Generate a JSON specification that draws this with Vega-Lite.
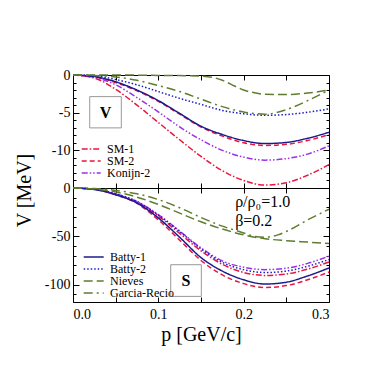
{
 "$schema": "https://vega.github.io/schema/vega-lite/v6.json",
 "padding": {"left": 13, "top": 67, "right": 10, "bottom": 5},
 "background": "white",
 "spacing": 0,
 "bounds": "flush",
 "config": {
  "view": {"stroke": "#000", "strokeWidth": 1},
  "font": "Liberation Serif",
  "text": {"font": "Liberation Serif"},
  "axis": {"domain": false, "grid": false, "tickColor": "#000", "labelColor": "#000", "labelFont": "Liberation Serif", "labelFontSize": 14, "titleFont": "Liberation Serif", "titleColor": "#000", "titleFontWeight": "normal"},
  "legend": {"orient": "bottom-left", "title": null, "labelFont": "Liberation Serif", "labelFontSize": 12, "labelColor": "#000", "symbolType": "M-2,0H2", "symbolSize": 100, "symbolStrokeWidth": 1.5, "rowPadding": 0, "padding": 0, "labelOffset": 11}
 },
 "resolve": {"scale": {"x": "independent", "y": "independent", "color": "independent", "strokeDash": "independent", "strokeWidth": "independent"}, "legend": {"color": "independent", "strokeDash": "independent"}},
 "datasets": {"curves": [
  {"panel":"V","series":"SM-1","p":0,"v":0},{"panel":"V","series":"SM-1","p":0.025,"v":-0.4},{"panel":"V","series":"SM-1","p":0.05,"v":-1.9},{"panel":"V","series":"SM-1","p":0.075,"v":-4.0},{"panel":"V","series":"SM-1","p":0.1,"v":-6.3},{"panel":"V","series":"SM-1","p":0.125,"v":-8.6},{"panel":"V","series":"SM-1","p":0.15,"v":-10.8},{"panel":"V","series":"SM-1","p":0.175,"v":-12.7},{"panel":"V","series":"SM-1","p":0.2,"v":-14.0},{"panel":"V","series":"SM-1","p":0.225,"v":-14.6},{"panel":"V","series":"SM-1","p":0.25,"v":-14.3},{"panel":"V","series":"SM-1","p":0.275,"v":-13.3},{"panel":"V","series":"SM-1","p":0.3,"v":-11.9},
  {"panel":"V","series":"SM-2","p":0,"v":0},{"panel":"V","series":"SM-2","p":0.025,"v":-0.25},{"panel":"V","series":"SM-2","p":0.05,"v":-1.0},{"panel":"V","series":"SM-2","p":0.075,"v":-2.1},{"panel":"V","series":"SM-2","p":0.1,"v":-3.5},{"panel":"V","series":"SM-2","p":0.125,"v":-5.2},{"panel":"V","series":"SM-2","p":0.15,"v":-6.9},{"panel":"V","series":"SM-2","p":0.175,"v":-8.1},{"panel":"V","series":"SM-2","p":0.2,"v":-9.0},{"panel":"V","series":"SM-2","p":0.225,"v":-9.35},{"panel":"V","series":"SM-2","p":0.25,"v":-9.2},{"panel":"V","series":"SM-2","p":0.275,"v":-8.7},{"panel":"V","series":"SM-2","p":0.3,"v":-7.9},
  {"panel":"V","series":"Konijn-2","p":0,"v":0},{"panel":"V","series":"Konijn-2","p":0.025,"v":-0.3},{"panel":"V","series":"Konijn-2","p":0.05,"v":-1.3},{"panel":"V","series":"Konijn-2","p":0.075,"v":-3.0},{"panel":"V","series":"Konijn-2","p":0.1,"v":-4.9},{"panel":"V","series":"Konijn-2","p":0.125,"v":-6.9},{"panel":"V","series":"Konijn-2","p":0.15,"v":-8.6},{"panel":"V","series":"Konijn-2","p":0.175,"v":-10.0},{"panel":"V","series":"Konijn-2","p":0.2,"v":-10.9},{"panel":"V","series":"Konijn-2","p":0.225,"v":-11.3},{"panel":"V","series":"Konijn-2","p":0.25,"v":-11.1},{"panel":"V","series":"Konijn-2","p":0.275,"v":-10.5},{"panel":"V","series":"Konijn-2","p":0.3,"v":-9.4},
  {"panel":"V","series":"Batty-1","p":0,"v":0},{"panel":"V","series":"Batty-1","p":0.025,"v":-0.2},{"panel":"V","series":"Batty-1","p":0.05,"v":-0.9},{"panel":"V","series":"Batty-1","p":0.075,"v":-2.0},{"panel":"V","series":"Batty-1","p":0.1,"v":-3.4},{"panel":"V","series":"Batty-1","p":0.125,"v":-5.1},{"panel":"V","series":"Batty-1","p":0.15,"v":-6.8},{"panel":"V","series":"Batty-1","p":0.175,"v":-7.9},{"panel":"V","series":"Batty-1","p":0.2,"v":-8.7},{"panel":"V","series":"Batty-1","p":0.225,"v":-9.1},{"panel":"V","series":"Batty-1","p":0.25,"v":-8.95},{"panel":"V","series":"Batty-1","p":0.275,"v":-8.4},{"panel":"V","series":"Batty-1","p":0.3,"v":-7.6},
  {"panel":"V","series":"Batty-2","p":0,"v":0},{"panel":"V","series":"Batty-2","p":0.025,"v":-0.1},{"panel":"V","series":"Batty-2","p":0.05,"v":-0.6},{"panel":"V","series":"Batty-2","p":0.075,"v":-1.3},{"panel":"V","series":"Batty-2","p":0.1,"v":-2.2},{"panel":"V","series":"Batty-2","p":0.125,"v":-3.1},{"panel":"V","series":"Batty-2","p":0.15,"v":-3.9},{"panel":"V","series":"Batty-2","p":0.175,"v":-4.7},{"panel":"V","series":"Batty-2","p":0.2,"v":-5.15},{"panel":"V","series":"Batty-2","p":0.225,"v":-5.35},{"panel":"V","series":"Batty-2","p":0.25,"v":-5.25},{"panel":"V","series":"Batty-2","p":0.275,"v":-4.95},{"panel":"V","series":"Batty-2","p":0.3,"v":-4.5},
  {"panel":"V","series":"Nieves","p":0,"v":0},{"panel":"V","series":"Nieves","p":0.05,"v":0},{"panel":"V","series":"Nieves","p":0.1,"v":-0.05},{"panel":"V","series":"Nieves","p":0.15,"v":-0.15},{"panel":"V","series":"Nieves","p":0.165,"v":-0.35},{"panel":"V","series":"Nieves","p":0.175,"v":-0.7},{"panel":"V","series":"Nieves","p":0.19,"v":-1.5},{"panel":"V","series":"Nieves","p":0.2,"v":-2.0},{"panel":"V","series":"Nieves","p":0.21,"v":-2.3},{"panel":"V","series":"Nieves","p":0.225,"v":-2.55},{"panel":"V","series":"Nieves","p":0.25,"v":-2.6},{"panel":"V","series":"Nieves","p":0.275,"v":-2.4},{"panel":"V","series":"Nieves","p":0.3,"v":-2.0},
  {"panel":"V","series":"Garcia-Recio","p":0,"v":0},{"panel":"V","series":"Garcia-Recio","p":0.025,"v":-0.05},{"panel":"V","series":"Garcia-Recio","p":0.05,"v":-0.25},{"panel":"V","series":"Garcia-Recio","p":0.075,"v":-0.7},{"panel":"V","series":"Garcia-Recio","p":0.1,"v":-1.4},{"panel":"V","series":"Garcia-Recio","p":0.125,"v":-2.2},{"panel":"V","series":"Garcia-Recio","p":0.15,"v":-3.2},{"panel":"V","series":"Garcia-Recio","p":0.175,"v":-4.2},{"panel":"V","series":"Garcia-Recio","p":0.2,"v":-4.9},{"panel":"V","series":"Garcia-Recio","p":0.225,"v":-5.2},{"panel":"V","series":"Garcia-Recio","p":0.25,"v":-4.6},{"panel":"V","series":"Garcia-Recio","p":0.275,"v":-3.4},{"panel":"V","series":"Garcia-Recio","p":0.3,"v":-2.0},
  {"panel":"S","series":"SM-1","p":0,"v":0},{"panel":"S","series":"SM-1","p":0.025,"v":-1.4},{"panel":"S","series":"SM-1","p":0.05,"v":-6.5},{"panel":"S","series":"SM-1","p":0.075,"v":-15},{"panel":"S","series":"SM-1","p":0.1,"v":-29},{"panel":"S","series":"SM-1","p":0.125,"v":-47},{"panel":"S","series":"SM-1","p":0.15,"v":-65},{"panel":"S","series":"SM-1","p":0.175,"v":-79},{"panel":"S","series":"SM-1","p":0.2,"v":-87.5},{"panel":"S","series":"SM-1","p":0.225,"v":-90.5},{"panel":"S","series":"SM-1","p":0.25,"v":-89},{"panel":"S","series":"SM-1","p":0.275,"v":-84},{"panel":"S","series":"SM-1","p":0.3,"v":-76.5},
  {"panel":"S","series":"SM-2","p":0,"v":0},{"panel":"S","series":"SM-2","p":0.025,"v":-1.5},{"panel":"S","series":"SM-2","p":0.05,"v":-7},{"panel":"S","series":"SM-2","p":0.075,"v":-16},{"panel":"S","series":"SM-2","p":0.1,"v":-33},{"panel":"S","series":"SM-2","p":0.125,"v":-54},{"panel":"S","series":"SM-2","p":0.15,"v":-75},{"panel":"S","series":"SM-2","p":0.175,"v":-90},{"panel":"S","series":"SM-2","p":0.2,"v":-99},{"panel":"S","series":"SM-2","p":0.225,"v":-103},{"panel":"S","series":"SM-2","p":0.25,"v":-101},{"panel":"S","series":"SM-2","p":0.275,"v":-95},{"panel":"S","series":"SM-2","p":0.3,"v":-87},
  {"panel":"S","series":"Konijn-2","p":0,"v":0},{"panel":"S","series":"Konijn-2","p":0.025,"v":-1.3},{"panel":"S","series":"Konijn-2","p":0.05,"v":-6},{"panel":"S","series":"Konijn-2","p":0.075,"v":-14},{"panel":"S","series":"Konijn-2","p":0.1,"v":-27.5},{"panel":"S","series":"Konijn-2","p":0.125,"v":-44.5},{"panel":"S","series":"Konijn-2","p":0.15,"v":-62},{"panel":"S","series":"Konijn-2","p":0.175,"v":-75.5},{"panel":"S","series":"Konijn-2","p":0.2,"v":-82},{"panel":"S","series":"Konijn-2","p":0.225,"v":-84.5},{"panel":"S","series":"Konijn-2","p":0.25,"v":-83},{"panel":"S","series":"Konijn-2","p":0.275,"v":-78},{"panel":"S","series":"Konijn-2","p":0.3,"v":-70.5},
  {"panel":"S","series":"Batty-1","p":0,"v":0},{"panel":"S","series":"Batty-1","p":0.025,"v":-1.5},{"panel":"S","series":"Batty-1","p":0.05,"v":-7},{"panel":"S","series":"Batty-1","p":0.075,"v":-15.5},{"panel":"S","series":"Batty-1","p":0.1,"v":-31},{"panel":"S","series":"Batty-1","p":0.125,"v":-51},{"panel":"S","series":"Batty-1","p":0.15,"v":-72},{"panel":"S","series":"Batty-1","p":0.175,"v":-86},{"panel":"S","series":"Batty-1","p":0.2,"v":-95},{"panel":"S","series":"Batty-1","p":0.225,"v":-99.4},{"panel":"S","series":"Batty-1","p":0.25,"v":-97.5},{"panel":"S","series":"Batty-1","p":0.275,"v":-91},{"panel":"S","series":"Batty-1","p":0.3,"v":-82.8},
  {"panel":"S","series":"Batty-2","p":0,"v":0},{"panel":"S","series":"Batty-2","p":0.025,"v":-1.3},{"panel":"S","series":"Batty-2","p":0.05,"v":-6},{"panel":"S","series":"Batty-2","p":0.075,"v":-14},{"panel":"S","series":"Batty-2","p":0.1,"v":-28},{"panel":"S","series":"Batty-2","p":0.125,"v":-45},{"panel":"S","series":"Batty-2","p":0.15,"v":-63},{"panel":"S","series":"Batty-2","p":0.175,"v":-77},{"panel":"S","series":"Batty-2","p":0.2,"v":-84.5},{"panel":"S","series":"Batty-2","p":0.225,"v":-87.5},{"panel":"S","series":"Batty-2","p":0.25,"v":-86},{"panel":"S","series":"Batty-2","p":0.275,"v":-81},{"panel":"S","series":"Batty-2","p":0.3,"v":-74},
  {"panel":"S","series":"Nieves","p":0,"v":0},{"panel":"S","series":"Nieves","p":0.025,"v":-1},{"panel":"S","series":"Nieves","p":0.05,"v":-4},{"panel":"S","series":"Nieves","p":0.075,"v":-9.5},{"panel":"S","series":"Nieves","p":0.1,"v":-17},{"panel":"S","series":"Nieves","p":0.125,"v":-26},{"panel":"S","series":"Nieves","p":0.15,"v":-35},{"panel":"S","series":"Nieves","p":0.175,"v":-42.5},{"panel":"S","series":"Nieves","p":0.2,"v":-48.5},{"panel":"S","series":"Nieves","p":0.225,"v":-52.5},{"panel":"S","series":"Nieves","p":0.25,"v":-54.5},{"panel":"S","series":"Nieves","p":0.275,"v":-56},{"panel":"S","series":"Nieves","p":0.3,"v":-57.5},
  {"panel":"S","series":"Garcia-Recio","p":0,"v":0},{"panel":"S","series":"Garcia-Recio","p":0.025,"v":-0.5},{"panel":"S","series":"Garcia-Recio","p":0.05,"v":-2.5},{"panel":"S","series":"Garcia-Recio","p":0.075,"v":-6},{"panel":"S","series":"Garcia-Recio","p":0.1,"v":-12},{"panel":"S","series":"Garcia-Recio","p":0.125,"v":-20.5},{"panel":"S","series":"Garcia-Recio","p":0.15,"v":-30.5},{"panel":"S","series":"Garcia-Recio","p":0.175,"v":-39.5},{"panel":"S","series":"Garcia-Recio","p":0.2,"v":-46.5},{"panel":"S","series":"Garcia-Recio","p":0.21,"v":-49.5},{"panel":"S","series":"Garcia-Recio","p":0.225,"v":-51},{"panel":"S","series":"Garcia-Recio","p":0.24,"v":-48.5},{"panel":"S","series":"Garcia-Recio","p":0.25,"v":-45},{"panel":"S","series":"Garcia-Recio","p":0.275,"v":-33},{"panel":"S","series":"Garcia-Recio","p":0.3,"v":-22}
 ]},
 "vconcat": [
  {
   "width": 256, "height": 113,
   "resolve": {"axis": {"x": "independent", "y": "independent"}},
   "layer": [
    {
     "data": {"values": [{}]},
     "mark": {"type": "rect", "fill": "white", "stroke": "#999", "strokeWidth": 1},
     "encoding": {
      "x": {"datum": 0.0196, "type": "quantitative", "scale": {"domain": [0, 0.3], "nice": false}, "axis": null},
      "x2": {"datum": 0.0566},
      "y": {"datum": -2.87, "type": "quantitative", "scale": {"domain": [-15, 0], "nice": false, "zero": false}, "axis": null},
      "y2": {"datum": -7.02}
     }
    },
    {
     "data": {"values": [{}]},
     "mark": {"type": "text", "text": "V", "font": "Liberation Serif", "fontWeight": "bold", "fontSize": 16, "align": "center", "baseline": "middle", "color": "#000"},
     "encoding": {
      "x": {"datum": 0.0381, "type": "quantitative", "axis": null},
      "y": {"datum": -5.0, "type": "quantitative", "axis": null}
     }
    },
    {
     "data": {"name": "curves"},
     "transform": [{"filter": "datum.panel === 'V'"}],
     "mark": {"type": "line", "interpolate": "monotone"},
     "encoding": {
      "x": {"field": "p", "type": "quantitative", "scale": {"domain": [0, 0.3], "nice": false},
            "axis": {"orient": "bottom", "values": [0, 0.05, 0.1, 0.15, 0.2, 0.25, 0.3], "labels": false, "tickSize": -5, "title": null}},
      "y": {"field": "v", "type": "quantitative", "scale": {"domain": [-15, 0], "nice": false, "zero": false},
            "axis": {"orient": "left", "values": [-15, -14, -13, -12, -11, -10, -9, -8, -7, -6, -5, -4, -3, -2, -1, 0],
                     "labelExpr": "(datum.value % 5 === 0 && datum.value > -15) ? toString(datum.value) : ''",
                     "tickSize": {"condition": {"test": "datum.value % 5 === 0", "value": -6}, "value": -3},
                     "labelPadding": 9, "labelFont": "Liberation Serif", "labelFontSize": 14,
                     "title": "V [MeV]", "titleFont": "Liberation Serif", "titleFontSize": 20, "titleAngle": -90, "titleX": -43, "titleY": 115, "titleAlign": "center", "titleBaseline": "alphabetic"}},
      "color": {"field": "series", "type": "nominal",
                "scale": {"domain": ["SM-1", "SM-2", "Konijn-2", "Batty-1", "Batty-2", "Nieves", "Garcia-Recio"], "range": ["#e8173f", "#e8173f", "#9b30e8", "#1a1a8c", "#1a1acc", "#5e7d2e", "#5e7d2e"]},
                "legend": {"values": ["SM-1", "SM-2", "Konijn-2"], "offset": 9, "rowPadding": 0, "symbolType": "M-1.26,0H2.54", "labelOffset": 13, "labelFont": "Liberation Serif"}},
      "strokeDash": {"field": "series", "type": "nominal",
                "scale": {"domain": ["SM-1", "SM-2", "Konijn-2", "Batty-1", "Batty-2", "Nieves", "Garcia-Recio"], "range": [[6, 2, 1.5, 2], [5, 3], [6, 2, 1.5, 2, 1.5, 2], [1, 0], [1.5, 2], [9, 4], [9, 4, 2, 4]]},
                "legend": {"values": ["SM-1", "SM-2", "Konijn-2"], "offset": 9, "rowPadding": 0, "symbolType": "M-1.26,0H2.54", "labelOffset": 13, "labelFont": "Liberation Serif"}},
      "strokeWidth": {"field": "series", "type": "nominal",
                "scale": {"domain": ["SM-1", "SM-2", "Konijn-2", "Batty-1", "Batty-2", "Nieves", "Garcia-Recio"], "range": [1.5, 1.5, 1.5, 2, 1.5, 1.5, 1.5]}, "legend": null}
     }
    },
    {
     "data": {"name": "curves"},
     "transform": [{"filter": "datum.panel === 'V'"}],
     "mark": {"type": "line", "opacity": 0},
     "encoding": {
      "x": {"field": "p", "type": "quantitative",
            "axis": {"orient": "top", "values": [0, 0.05, 0.1, 0.15, 0.2, 0.25, 0.3], "labels": false, "tickSize": -5, "title": null}},
      "y": {"field": "v", "type": "quantitative",
            "axis": {"orient": "right", "values": [-15, -14, -13, -12, -11, -10, -9, -8, -7, -6, -5, -4, -3, -2, -1, 0], "labels": false,
                     "tickSize": {"condition": {"test": "datum.value % 5 === 0", "value": -6}, "value": -3}, "title": null}},
      "detail": {"field": "series"}
     }
    }
   ]
  },
  {
   "width": 256, "height": 114,
   "resolve": {"axis": {"x": "independent", "y": "independent"}},
   "layer": [
    {
     "data": {"values": [{}]},
     "mark": {"type": "rect", "fill": "white", "stroke": "#999", "strokeWidth": 1},
     "encoding": {
      "x": {"datum": 0.1145, "type": "quantitative", "scale": {"domain": [0, 0.3], "nice": false}, "axis": null},
      "x2": {"datum": 0.1504},
      "y": {"datum": -79.4, "type": "quantitative", "scale": {"domain": [-118, 0], "nice": false, "zero": false}, "axis": null},
      "y2": {"datum": -112.2}
     }
    },
    {
     "data": {"values": [{}]},
     "mark": {"type": "text", "text": "S", "font": "Liberation Serif", "fontWeight": "bold", "fontSize": 16, "align": "center", "baseline": "middle", "color": "#000"},
     "encoding": {
      "x": {"datum": 0.1324, "type": "quantitative", "axis": null},
      "y": {"datum": -95.9, "type": "quantitative", "axis": null}
     }
    },
    {
     "data": {"values": [{}]},
     "mark": {"type": "text", "text": "ρ/ρ₀=1.0", "font": "Liberation Serif", "fontSize": 16, "align": "left", "baseline": "alphabetic", "color": "#000"},
     "encoding": {
      "x": {"datum": 0.19, "type": "quantitative", "axis": null},
      "y": {"datum": -19.9, "type": "quantitative", "axis": null}
     }
    },
    {
     "data": {"values": [{}]},
     "mark": {"type": "text", "text": "β=0.2", "font": "Liberation Serif", "fontSize": 16, "align": "left", "baseline": "alphabetic", "color": "#000"},
     "encoding": {
      "x": {"datum": 0.19, "type": "quantitative", "axis": null},
      "y": {"datum": -38.9, "type": "quantitative", "axis": null}
     }
    },
    {
     "data": {"name": "curves"},
     "transform": [{"filter": "datum.panel === 'S'"}],
     "mark": {"type": "line", "interpolate": "monotone"},
     "encoding": {
      "x": {"field": "p", "type": "quantitative", "scale": {"domain": [0, 0.3], "nice": false},
            "axis": {"orient": "bottom", "values": [0, 0.05, 0.1, 0.15, 0.2, 0.25, 0.3], "tickSize": -5,
                     "labelExpr": "abs(datum.value*10 - round(datum.value*10)) < 0.001 ? format(datum.value, '.1f') : ''",
                     "labelPadding": 10, "labelFont": "Liberation Serif", "labelFontSize": 14,
                     "title": "p [GeV/c]", "titleFont": "Liberation Serif", "titleFontSize": 20, "titlePadding": 3}},
      "y": {"field": "v", "type": "quantitative", "scale": {"domain": [-118, 0], "nice": false, "zero": false},
            "axis": {"orient": "left", "values": [-110, -100, -90, -80, -70, -60, -50, -40, -30, -20, -10, 0],
                     "labelExpr": "(datum.value % 50 === 0) ? toString(datum.value) : ''",
                     "tickSize": {"condition": {"test": "datum.value % 50 === 0", "value": -6}, "value": -3},
                     "labelPadding": 9, "labelFont": "Liberation Serif", "labelFontSize": 14, "title": null}},
      "color": {"field": "series", "type": "nominal",
                "scale": {"domain": ["SM-1", "SM-2", "Konijn-2", "Batty-1", "Batty-2", "Nieves", "Garcia-Recio"], "range": ["#e8173f", "#e8173f", "#9b30e8", "#1a1a8c", "#1a1acc", "#5e7d2e", "#5e7d2e"]},
                "legend": {"values": ["Batty-1", "Batty-2", "Nieves", "Garcia-Recio"], "offset": 3, "rowPadding": 0, "symbolType": "M0.34,0H4.34", "labelOffset": 22, "labelFont": "Liberation Serif"}},
      "strokeDash": {"field": "series", "type": "nominal",
                "scale": {"domain": ["SM-1", "SM-2", "Konijn-2", "Batty-1", "Batty-2", "Nieves", "Garcia-Recio"], "range": [[6, 2, 1.5, 2], [5, 3], [6, 2, 1.5, 2, 1.5, 2], [1, 0], [1.5, 2], [9, 4], [9, 4, 2, 4]]},
                "legend": {"values": ["Batty-1", "Batty-2", "Nieves", "Garcia-Recio"], "offset": 3, "rowPadding": 0, "symbolType": "M0.34,0H4.34", "labelOffset": 22, "labelFont": "Liberation Serif"}},
      "strokeWidth": {"field": "series", "type": "nominal",
                "scale": {"domain": ["SM-1", "SM-2", "Konijn-2", "Batty-1", "Batty-2", "Nieves", "Garcia-Recio"], "range": [1.5, 1.5, 1.5, 2, 1.5, 1.5, 1.5]}, "legend": null}
     }
    },
    {
     "data": {"name": "curves"},
     "transform": [{"filter": "datum.panel === 'S'"}],
     "mark": {"type": "line", "opacity": 0},
     "encoding": {
      "x": {"field": "p", "type": "quantitative",
            "axis": {"orient": "top", "values": [0, 0.05, 0.1, 0.15, 0.2, 0.25, 0.3], "labels": false, "tickSize": -5, "title": null}},
      "y": {"field": "v", "type": "quantitative",
            "axis": {"orient": "right", "values": [-110, -100, -90, -80, -70, -60, -50, -40, -30, -20, -10, 0], "labels": false,
                     "tickSize": {"condition": {"test": "datum.value % 50 === 0", "value": -6}, "value": -3}, "title": null}},
      "detail": {"field": "series"}
     }
    }
   ]
  }
 ]
}
